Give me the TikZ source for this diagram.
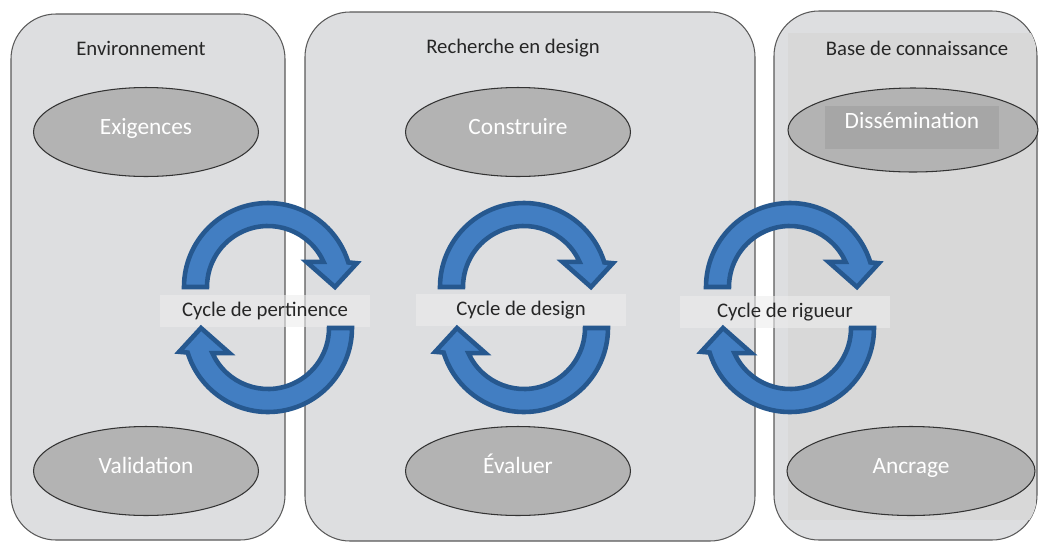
\documentclass[tikz,border=0pt]{standalone}
\usepackage{fontspec}
\setmainfont{Carlito}
\usepackage{tikz}
\usetikzlibrary{shapes.geometric}

\definecolor{panelgray}{RGB}{221,222,224}
\definecolor{innergray}{RGB}{216,216,216}
\definecolor{phasegray}{RGB}{179,179,179}
\definecolor{boxgray}{RGB}{166,166,166}
\definecolor{arrowblue}{RGB}{66,126,194}
\definecolor{arrowdark}{RGB}{38,88,143}

\tikzset{
  panel/.style={draw=black!65, fill=panelgray, line width=0.6pt, rounded corners=0.9cm},
  title/.style={text=black!85, font=\fontsize{11.8}{14}\selectfont},
  phase/.style={ellipse, draw=black!80, fill=phasegray, line width=0.6pt,
                minimum width=4.5cm, minimum height=1.78cm, inner sep=0pt,
                text height=0.75em, text depth=0.45em,
                text=white, font=\fontsize{13.3}{16}\selectfont},
  band/.style={fill=gray!15, fill opacity=0.6, text opacity=1, text=black!85,
               minimum width=4.2cm, minimum height=0.64cm,
               font=\fontsize{11.8}{14}\selectfont},
  cyclearrow/.style={fill=arrowblue, draw=arrowdark, line width=2.6pt},
  halfcycle/.pic={
    \filldraw[cyclearrow] (180:84) arc[start angle=180, end angle=343, radius=84]
      -- (345:92) -- (0:67) -- (327:46) -- (335.6:61)
      arc[start angle=335.6, end angle=180, radius=61] -- cycle;
  }
}

\begin{document}
\begin{tikzpicture}[x=0.02cm, y=-0.02cm]
\useasboundingbox (0,0) rectangle (1039,542);

% panels
\draw [panel] (11,14) rectangle (285,540);
\draw [panel] (305,12) rectangle (755,541);
\draw [panel] (774,11) rectangle (1037,540);
\begin{scope}
  \clip [rounded corners=0.9cm] (774,11) rectangle (1037,540);
  \fill [innergray] (788,33) rectangle (1036,520);
\end{scope}

\node [title] (env)  at (141,48) {Environnement};
\node [title] (rech) at (513,48) {Recherche en design};
\node [title] (base) at (917,48) {Base de connaissance};

% phases
\node [phase] (exig)   at (146,132) {Exigences};
\node [phase] (valid)  at (146,471) {Validation};
\node [phase] (constr) at (518,132) {Construire};
\node [phase] (eval)   at (518,471) {Évaluer};
\node [phase, minimum width=5cm, minimum height=1.68cm] (dissem) at (913,130) {};
\node [fill=boxgray, minimum width=3.5cm, minimum height=0.86cm] (dissembox) at (912,127) {};
\node [text=white, font=\fontsize{13.3}{16}\selectfont] (dissemtxt) at (912,121) {Dissémination};
\node [phase, minimum width=4.96cm] (ancr) at (911,471) {Ancrage};

% cycles
\node [band] (pert)   at (265,311) {Cycle de pertinence};
\node [band] (design) at (521,310) {Cycle de design};
\node [band] (rig)    at (785,312) {Cycle de rigueur};

\pic at (268,287) {halfcycle};
\pic [rotate=180] at (268,328) {halfcycle};
\pic at (524,287) {halfcycle};
\pic [rotate=180] at (524,328) {halfcycle};
\pic at (790,287) {halfcycle};
\pic [rotate=180] at (790,328) {halfcycle};
\end{tikzpicture}
\end{document}
